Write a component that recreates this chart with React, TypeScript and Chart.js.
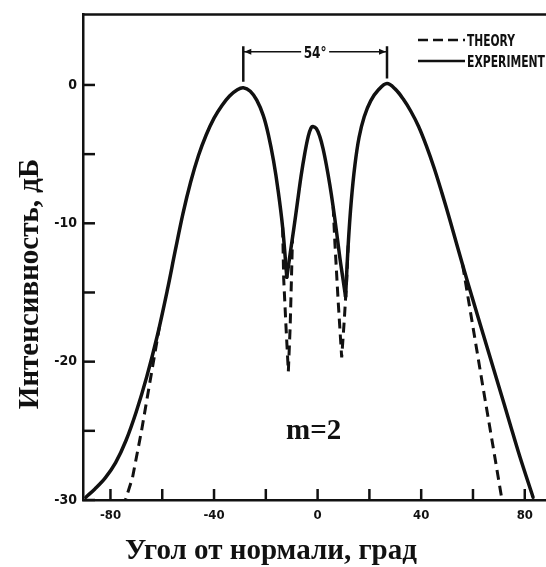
import React, { useEffect, useRef } from 'react';
import { Chart, registerables } from 'chart.js';
Chart.register(...registerables);

// Experiment (solid): angle in degrees, intensity in dB
const expAngle = [
  -89.5, -86, -82, -78, -74, -70, -66, -62, -58, -55, -52, -49, -46, -43, -40, -37, -34, -31, -28.7,
  -26, -23.5, -21, -19, -17, -15.2, -13.5, -11.9,
  -10.6, -9.2, -7.8, -6.4, -5, -3.6, -2.5, -1.8, -0.5, 0.8, 2.1, 3.4, 4.7, 6, 7.3, 8.6, 9.7, 10.8,
  11.8, 13, 14.4, 16, 18, 20.5, 23.5, 26.8,
  30, 33, 36, 39, 42, 45, 48, 51, 54, 58, 62, 66, 70, 74, 78, 83.2,
];
const expDb = [
  -29.8, -29.2, -28.4, -27.3, -25.7, -23.6, -21.1, -18.2, -14.8, -12.0, -9.3, -7.0, -5.1, -3.6, -2.4, -1.5, -0.8, -0.35, -0.2,
  -0.45, -1.1, -2.2, -3.6, -5.5, -7.7, -10.3, -13.9,
  -12.2, -10.4, -8.5, -6.6, -5.0, -3.7, -3.1, -3.0, -3.15, -3.7, -4.6, -5.8, -7.2, -8.8, -10.6, -12.5, -13.9, -15.3,
  -11.6, -8.4, -5.8, -3.8, -2.3, -1.15, -0.35, 0.1,
  -0.3, -1.0, -1.9, -3.0, -4.4, -6.0, -7.8, -9.7, -11.7, -14.3, -16.8, -19.3, -21.8, -24.3, -26.8, -29.8,
];

// Theory (dashed) where it departs from the experiment
const theoryLeftAngle = [-61, -64.5, -68, -71.5, -74.2];
const theoryLeftDb = [-17.4, -21.2, -25, -28.4, -30];
const theoryNullLAngle = [-13.5, -13.1, -12.2, -11.3, -10.6, -10.1, -9.7];
const theoryNullLDb = [-10.3, -14, -17.5, -20.7, -17.5, -14, -11.1];
const theoryNullRAngle = [6, 6.7, 7.9, 9.3, 10.3, 11.2, 11.8];
const theoryNullRDb = [-8.8, -11.5, -15.5, -19.7, -17, -14.2, -11.6];
const theoryRightAngle = [56, 60, 64, 68, 71.2];
const theoryRightDb = [-13.0, -17.5, -22, -26.4, -30];

const xTickValues = [-80, -60, -40, -20, 0, 20, 40, 60, 80];
const xLabelStep = 40;
const yTickValues = [-30, -25, -20, -15, -10, -5, 0];
const yLabelStep = 10;

const xTitle = 'Угол от нормали, град';
const yTitle = 'Интенсивность, дБ';
const annotationText = 'm=2';
const beamWidthText = '54°';
const legendTheory = 'THEORY';
const legendExperiment = 'EXPERIMENT';

const INK = '#111';
const tickFont = "'DejaVu Sans Condensed', 'Liberation Sans Narrow', 'DejaVu Sans', sans-serif";
const serif = "'Liberation Serif', 'DejaVu Serif', serif";

const pts = (a: number[], d: number[]) => a.map((x, i) => ({ x, y: d[i] }));

// split the measured curve into lobes at its nulls (local minima), so nulls stay sharp
function lobes(a: number[], d: number[]) {
  const out: { x: number; y: number }[][] = [];
  let start = 0;
  for (let i = 1; i < a.length - 1; i++) {
    if (d[i] < d[i - 1] && d[i] < d[i + 1]) {
      out.push(pts(a.slice(start, i + 1), d.slice(start, i + 1)));
      start = i;
    }
  }
  out.push(pts(a.slice(start), d.slice(start)));
  return out;
}

function squeezed(ctx: CanvasRenderingContext2D, text: string, x: number, y: number, font: string, width: number, align: 'left' | 'center') {
  ctx.save();
  ctx.font = font;
  const w = ctx.measureText(text).width;
  const s = width / w;
  ctx.translate(x, y);
  ctx.scale(s, 1);
  ctx.textAlign = align;
  ctx.textBaseline = 'alphabetic';
  ctx.fillStyle = INK;
  ctx.fillText(text, 0, 0);
  ctx.restore();
}

const decor = {
  id: 'decor',
  afterDraw(chart: any) {
    const { ctx, chartArea, scales } = chart;
    const xs = scales.x, ys = scales.y;
    ctx.save();
    ctx.strokeStyle = INK;
    ctx.fillStyle = INK;
    ctx.lineCap = 'butt';
    // top frame
    ctx.lineWidth = 2.5;
    ctx.beginPath();
    ctx.moveTo(chartArea.left - 1, chartArea.top);
    ctx.lineTo(chartArea.right, chartArea.top);
    ctx.stroke();
    // inward ticks
    xTickValues.forEach((v) => {
      const px = xs.getPixelForValue(v);
      ctx.beginPath();
      ctx.moveTo(px, chartArea.bottom);
      ctx.lineTo(px, chartArea.bottom - 11);
      ctx.stroke();
    });
    yTickValues.forEach((v) => {
      const py = ys.getPixelForValue(v);
      ctx.beginPath();
      ctx.moveTo(chartArea.left, py);
      ctx.lineTo(chartArea.left + 12, py);
      ctx.stroke();
    });
    // beam-width marker between the two main peaks
    let li = -1, ri = -1;
    expAngle.forEach((a, i) => {
      if (a < -10 && (li < 0 || expDb[i] > expDb[li])) li = i;
      if (a > 10 && (ri < 0 || expDb[i] > expDb[ri])) ri = i;
    });
    const xL = xs.getPixelForValue(expAngle[li]);
    const xR = xs.getPixelForValue(expAngle[ri]);
    const yTop = ys.getPixelForValue(2.8);
    const yLine = ys.getPixelForValue(2.4);
    ctx.lineWidth = 2.5;
    ctx.beginPath();
    ctx.moveTo(xL, yTop); ctx.lineTo(xL, ys.getPixelForValue(expDb[li]) - 6);
    ctx.moveTo(xR, yTop); ctx.lineTo(xR, ys.getPixelForValue(expDb[ri]) - 5);
    ctx.stroke();
    const xm = (xL + xR) / 2;
    ctx.lineWidth = 1.6;
    ctx.beginPath();
    ctx.moveTo(xL, yLine); ctx.lineTo(xm - 14, yLine);
    ctx.moveTo(xm + 14, yLine); ctx.lineTo(xR, yLine);
    ctx.stroke();
    ctx.beginPath();
    ctx.moveTo(xL + 1, yLine); ctx.lineTo(xL + 8, yLine - 3); ctx.lineTo(xL + 8, yLine + 3); ctx.closePath();
    ctx.moveTo(xR - 1, yLine); ctx.lineTo(xR - 8, yLine - 3); ctx.lineTo(xR - 8, yLine + 3); ctx.closePath();
    ctx.fill();
    squeezed(ctx, beamWidthText, xm, yLine + 6, "bold 16px 'DejaVu Sans', sans-serif", 23, 'center');
    // legend
    const lx0 = chartArea.right - 128, lx1 = chartArea.right - 81;
    ctx.lineWidth = 2.5;
    ctx.setLineDash([10, 5]);
    ctx.beginPath();
    ctx.moveTo(lx0, 40); ctx.lineTo(lx1, 40);
    ctx.stroke();
    ctx.setLineDash([]);
    ctx.beginPath();
    ctx.moveTo(lx0, 61); ctx.lineTo(lx1, 61);
    ctx.stroke();
    squeezed(ctx, legendTheory, lx1 + 2, 46, "bold 15px 'DejaVu Sans', sans-serif", 48, 'left');
    squeezed(ctx, legendExperiment, lx1 + 2, 67, "bold 15px 'DejaVu Sans', sans-serif", 78, 'left');
    // m=2
    ctx.font = `bold 29px ${serif}`;
    ctx.textAlign = 'left';
    ctx.textBaseline = 'alphabetic';
    ctx.fillText(annotationText, 286, 439);
    // axis titles
    ctx.textAlign = 'center';
    ctx.fillText(xTitle, 271, 559);
    ctx.translate(38, 284);
    ctx.rotate(-Math.PI / 2);
    ctx.fillText(yTitle, 0, 0);
    ctx.restore();
  },
};

export default function App() {
  const ref = useRef<HTMLCanvasElement>(null);
  useEffect(() => {
    const canvas = ref.current!;
    const theoryStyle = {
      borderColor: INK,
      borderWidth: 3,
      borderDash: [10, 6],
      pointRadius: 0,
      tension: 0,
      fill: false,
    };
    const expSets = lobes(expAngle, expDb).map((data) => ({
      label: 'EXPERIMENT',
      data,
      borderColor: INK,
      borderWidth: 3.5,
      pointRadius: 0,
      tension: 0.35,
      borderCapStyle: 'round',
      fill: false,
    }));
    const chart = new Chart(canvas, {
      type: 'line',
      data: {
        datasets: [
          ...expSets,
          { label: 'THEORY', data: pts(theoryLeftAngle, theoryLeftDb), ...theoryStyle },
          { label: 'THEORY', data: pts(theoryNullLAngle, theoryNullLDb), ...theoryStyle },
          { label: 'THEORY', data: pts(theoryNullRAngle, theoryNullRDb), ...theoryStyle },
          { label: 'THEORY', data: pts(theoryRightAngle, theoryRightDb), ...theoryStyle },
        ] as any,
      },
      options: {
        responsive: false,
        animation: false,
        layout: { padding: { top: 10, right: 0, left: 0, bottom: 0 } },
        plugins: { legend: { display: false }, tooltip: { enabled: false } },
        scales: {
          x: {
            type: 'linear',
            min: -90.6,
            max: 88.2,
            afterBuildTicks: (s: any) => { s.ticks = xTickValues.map((value) => ({ value })); },
            afterFit: (s: any) => { s.height = 67; },
            ticks: {
              autoSkip: false,
              maxRotation: 0,
              padding: 8,
              color: INK,
              font: { family: tickFont, size: 13, weight: 'bold' },
              callback: (v: any) => (Number(v) % xLabelStep === 0 ? String(v) : ''),
            },
            grid: { display: false, drawTicks: false },
            border: { display: true, color: INK, width: 2.5 },
          },
          y: {
            type: 'linear',
            min: -30,
            max: 5.1,
            afterBuildTicks: (s: any) => { s.ticks = yTickValues.map((value) => ({ value })); },
            afterFit: (s: any) => { s.width = 83; },
            ticks: {
              autoSkip: false,
              padding: 6,
              color: INK,
              font: { family: tickFont, size: 14, weight: 'bold' },
              callback: (v: any) => (Number(v) % yLabelStep === 0 ? String(v) : ''),
            },
            grid: { display: false, drawTicks: false },
            border: { display: true, color: INK, width: 2.5 },
          },
        },
      } as any,
      plugins: [decor],
    });
    return () => chart.destroy();
  }, []);
  return (
    <div style={{ position: 'absolute', left: 0, top: 0, width: 546, height: 567, background: '#fff' }}>
      <canvas ref={ref} width={546} height={567} style={{ display: 'block', width: 546, height: 567 }} />
    </div>
  );
}
